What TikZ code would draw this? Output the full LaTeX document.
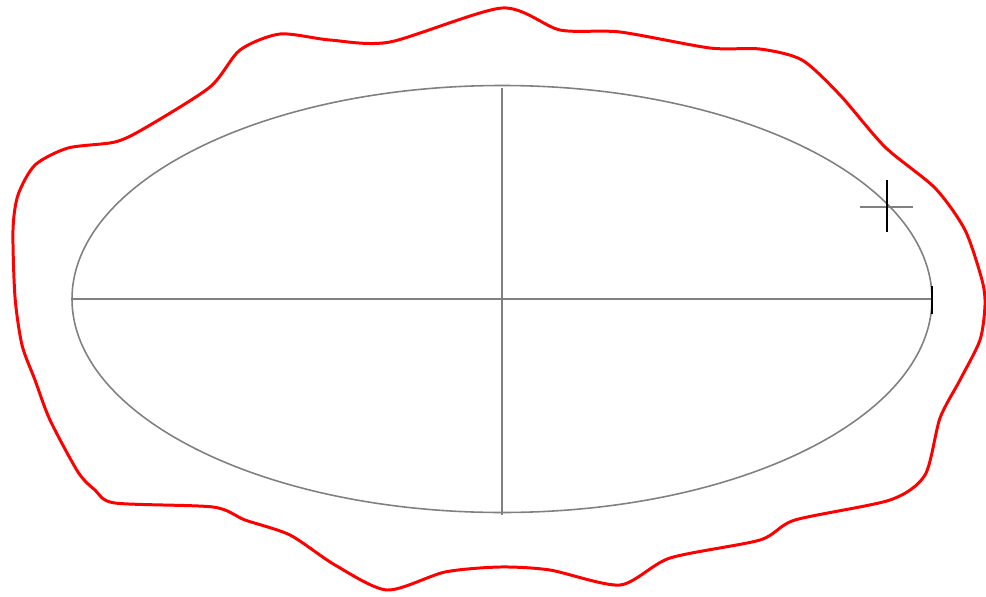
\documentclass[tikz,border=0pt]{standalone}
\usepackage{tikz}
\usetikzlibrary{positioning}

\begin{document}
\begin{tikzpicture}[x=0.1mm, y=-0.1mm,
    outline/.style={red, line width=0.85pt, line join=round},
    axisline/.style={gray, line width=0.45pt},
    tickline/.style={black, line width=0.6pt}]
    \useasboundingbox (0,0) rectangle (986,597);
    \coordinate (centre) at (502,299);
    \coordinate (west) at (72,299);
    \coordinate (east) at (932,299);
    \coordinate (north) at (502,88);
    \coordinate (south) at (502,515);
    \coordinate (mark) at (887,207);
    % boundary
    \draw[outline] plot[smooth cycle, tension=0.45] coordinates {
      (15,297) (13,230) (18,195) (35,165) (68,148) (115,142) (145,128)
      (210,87) (240,50) (280,34) (330,40) (390,42) (502,8) (560,30)
      (620,32) (710,48) (760,49) (802,60) (840,95) (885,147) (935,188)
      (965,230) (982,280) (985,305) (980,340) (960,380) (940,418)
      (925,475) (890,500) (795,520) (760,540) (670,558) (620,585)
      (550,570) (500,567) (445,572) (387,590) (335,565) (290,535)
      (245,520) (213,507) (115,503) (95,490) (78,472) (50,420) (35,380)
      (22,345)};
    % ellipse and its axes
    \draw[axisline] (centre) ellipse [x radius=430, y radius=213.5];
    \draw[axisline] (west) -- (east);
    \draw[axisline] (north) -- (south);
    \draw[tickline] ([yshift=1.3mm]east) -- ([yshift=-1.5mm]east);
    % point marker
    \draw[axisline] ([xshift=-2.7mm]mark) -- ([xshift=2.6mm]mark);
    \draw[tickline] ([yshift=2.7mm]mark) -- ([yshift=-2.5mm]mark);
\end{tikzpicture}
\end{document}
